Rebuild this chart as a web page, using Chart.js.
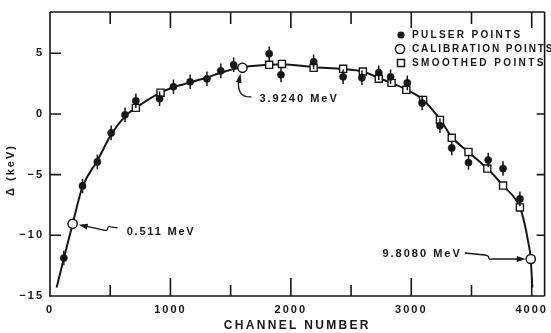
<!DOCTYPE html>
<html><head><meta charset="utf-8">
<script src="https://cdn.jsdelivr.net/npm/chart.js@4/dist/chart.umd.min.js"></script>
<style>html,body{margin:0;padding:0;background:#fff;}canvas{display:block}</style>
</head><body>
<canvas id="c" width="551" height="333" style="width:551px;height:333px"></canvas>
<script>
// ---- data ----
const pulserX   = [115, 270, 393, 508, 623, 713, 910, 1025, 1164, 1303, 1418, 1525, 1820, 1918, 2189, 2434, 2590, 2730, 2828, 2967, 3090, 3238, 3336, 3475, 3639, 3762, 3902];
const pulserY   = [-11.87, -5.93, -3.95, -1.56, -0.07, 1.08, 1.25, 2.24, 2.65, 2.9, 3.55, 4.05, 4.96, 3.22, 4.3, 3.06, 2.98, 3.4, 3.06, 2.56, 0.9, -0.98, -2.8, -4.0, -3.8, -4.5, -7.0];
const pulserErr = [0.6, 0.6, 0.6, 0.6, 0.6, 0.6, 0.6, 0.6, 0.6, 0.6, 0.6, 0.6, 0.6, 0.6, 0.6, 0.6, 0.6, 0.6, 0.6, 0.6, 0.6, 0.6, 0.6, 0.6, 0.6, 0.6, 0.6];
const calibX = [188, 1598, 3992];
const calibY = [-9.05, 3.8, -11.95];
const calibLabels = ['0.511 MeV', '3.9240 MeV', '9.8080 MeV'];
const smoothX = [713, 918, 1820, 1926, 2189, 2434, 2598, 2730, 2836, 2959, 3098, 3238, 3336, 3475, 3631, 3762, 3902];
const smoothY = [0.5, 1.75, 4.05, 4.12, 3.8, 3.72, 3.5, 2.9, 2.56, 1.99, 1.16, -0.49, -1.97, -3.13, -4.5, -5.9, -7.7];
const curveX = [55, 115, 188, 270, 393, 508, 623, 713, 918, 1025, 1164, 1303, 1418, 1525, 1598, 1820, 1926, 2189, 2434, 2598, 2730, 2836, 2959, 3098, 3238, 3336, 3475, 3631, 3762, 3902, 3940, 3970, 3992, 4005];
const curveY = [-14.3, -11.9, -9.05, -6.0, -3.85, -1.7, -0.2, 0.5, 1.75, 2.2, 2.6, 3.0, 3.4, 3.7, 3.85, 4.05, 4.1, 3.85, 3.7, 3.5, 2.95, 2.56, 2.0, 1.16, -0.45, -1.9, -3.15, -4.5, -5.9, -7.7, -9.0, -10.5, -11.95, -14.3];
const xTickMarks  = [0, 500, 1000, 1500, 2000, 2500, 3000, 3500, 4000];
const xTickValues = [0, 1000, 2000, 3000, 4000];
const xTickLabels = ['0', '1000', '2000', '3000', '4000'];
const yTickValues = [-15, -10, -5, 0, 5];
const yTickLabels = ['\u221215', '\u221210', '\u22125', '0', '5'];
const seriesLabels = ['PULSER POINTS', 'CALIBRATION POINTS', 'SMOOTHED POINTS'];
const xTitle = 'CHANNEL NUMBER';
const yTitle = '\u0394 (keV)';

// ---- styles ----
const INK = '#161616';
const FONT = "'Liberation Sans', Arial, sans-serif";
const zip = (xs, ys) => xs.map((v, i) => ({x: v, y: ys[i]}));

function txt(ctx, s, x, y, size, spacing, align) {
  ctx.save();
  ctx.font = 'bold ' + size + 'px ' + FONT;
  ctx.letterSpacing = spacing + 'px';
  ctx.fillStyle = INK;
  ctx.textAlign = align || 'left';
  ctx.textBaseline = 'middle';
  ctx.fillText(s, x, y);
  ctx.restore();
}
function arrowHead(ctx, tx, ty, ax, ay, len, half) {
  const ang = Math.atan2(ty - ay, tx - ax);
  ctx.beginPath();
  ctx.moveTo(tx, ty);
  ctx.lineTo(tx - len * Math.cos(ang) + half * Math.sin(ang), ty - len * Math.sin(ang) - half * Math.cos(ang));
  ctx.lineTo(tx - len * Math.cos(ang) - half * Math.sin(ang), ty - len * Math.sin(ang) + half * Math.cos(ang));
  ctx.closePath();
  ctx.fill();
}

const decor = {
  id: 'decor',
  beforeDraw(chart) {
    const c = chart.ctx;
    c.save(); c.fillStyle = '#fff'; c.fillRect(0, 0, chart.width, chart.height); c.restore();
    c.letterSpacing = '2px';
  },
  beforeDatasetsDraw(chart) {
    const {ctx, chartArea: a, scales: {x, y}} = chart;
    ctx.save();
    ctx.strokeStyle = INK; ctx.lineWidth = 1.6;
    ctx.beginPath();
    ctx.moveTo(a.left, a.top); ctx.lineTo(a.right, a.top);
    ctx.moveTo(a.left, a.top); ctx.lineTo(a.left, a.bottom);
    ctx.moveTo(a.left - 1, a.bottom); ctx.lineTo(a.right, a.bottom);
    ctx.moveTo(a.right, a.top); ctx.lineTo(a.right, a.bottom);
    x.ticks.forEach(t => {
      if (t.value <= x.min) return;
      const px = x.getPixelForValue(t.value);
      const major = xTickValues.includes(t.value);
      ctx.moveTo(px, a.bottom); ctx.lineTo(px, a.bottom - (major ? 18 : 11));
      ctx.moveTo(px, a.top); ctx.lineTo(px, a.top + (major ? 16 : 12));
    });
    y.ticks.forEach(t => {
      if (t.value <= y.min) return;
      const py = y.getPixelForValue(t.value);
      ctx.moveTo(a.left, py); ctx.lineTo(a.left + 11, py);
      if (t.value < 5) { ctx.moveTo(a.right, py); ctx.lineTo(a.right - 8, py); }
    });
    ctx.stroke();
    ctx.restore();
  },
  afterDatasetsDraw(chart) {
    const {ctx, chartArea: a, scales: {x, y}} = chart;
    ctx.save();
    ctx.strokeStyle = INK; ctx.fillStyle = INK; ctx.lineWidth = 1.5;
    // error bars
    ctx.beginPath();
    pulserX.forEach((v, i) => {
      const px = x.getPixelForValue(v);
      ctx.moveTo(px, y.getPixelForValue(pulserY[i] - pulserErr[i]));
      ctx.lineTo(px, y.getPixelForValue(pulserY[i] + pulserErr[i]));
    });
    ctx.stroke();
    // annotations for calibration points
    const cp = calibX.map((v, i) => [x.getPixelForValue(v), y.getPixelForValue(calibY[i])]);
    ctx.lineWidth = 1.3;
    // 0.511
    let [cx, cy] = cp[0];
    ctx.beginPath();
    ctx.moveTo(cx + 12, cy + 2); ctx.lineTo(cx + 30, cy + 6);
    ctx.bezierCurveTo(cx + 38, cy + 9, cx + 33, cy + 1, cx + 38, cy + 3);
    ctx.lineTo(cx + 45, cy + 4);
    ctx.stroke();
    arrowHead(ctx, cx + 6, cy + 1, cx + 30, cy + 6, 9, 3);
    txt(ctx, calibLabels[0], cx + 54, cy + 8, 11, 1.8);
    // 3.9240
    [cx, cy] = cp[1];
    ctx.beginPath();
    ctx.moveTo(cx + 9, cy + 29);
    ctx.quadraticCurveTo(cx - 5, cy + 30, cx - 4, cy + 14);
    ctx.stroke();
    arrowHead(ctx, cx - 2, cy + 6, cx - 4, cy + 16, 9, 3);
    txt(ctx, calibLabels[1], cx + 17, cy + 31, 11, 2);
    // 9.8080
    [cx, cy] = cp[2];
    ctx.beginPath();
    ctx.moveTo(cx - 66, cy - 6); ctx.lineTo(cx - 46, cy - 4);
    ctx.bezierCurveTo(cx - 38, cy - 3, cx - 46, cy + 1, cx - 38, cy + 0);
    ctx.lineTo(cx - 12, cy);
    ctx.stroke();
    arrowHead(ctx, cx - 5, cy, cx - 30, cy, 9, 3);
    txt(ctx, calibLabels[2], cx - 69, cy - 5, 11, 2, 'right');
    // legend
    const lx = 401, rows = [35, 49, 63];
    ctx.beginPath(); ctx.arc(lx, rows[0], 3.6, 0, Math.PI * 2); ctx.fill();
    ctx.beginPath(); ctx.arc(lx - 1, rows[1], 4.6, 0, Math.PI * 2);
    ctx.fillStyle = '#fff'; ctx.fill(); ctx.lineWidth = 1.5; ctx.stroke();
    ctx.fillStyle = '#fff'; ctx.fillRect(lx - 3.5, rows[2] - 3.5, 7, 7); ctx.strokeRect(lx - 3.5, rows[2] - 3.5, 7, 7);
    ctx.fillStyle = INK;
    txt(ctx, seriesLabels[0], 412, rows[0], 10, 2.3);
    txt(ctx, seriesLabels[1], 412, rows[1], 10, 1.9);
    txt(ctx, seriesLabels[2], 412, rows[2], 10, 2.4);
    // axis titles
    txt(ctx, xTitle, (a.left + a.right) / 2, 326, 12, 2.3, 'center');
    ctx.save(); ctx.translate(11, 170); ctx.rotate(-Math.PI / 2);
    txt(ctx, yTitle, 0, 0, 11, 2, 'center');
    ctx.restore();
    ctx.restore();
  }
};

new Chart(document.getElementById('c'), {
  type: 'scatter',
  data: {
    datasets: [
      {label: seriesLabels[1], data: zip(calibX, calibY), pointRadius: 4.6, pointBackgroundColor: '#fff', pointBorderColor: INK, pointBorderWidth: 1.5, order: 0},
      {label: seriesLabels[0], data: zip(pulserX, pulserY), pointRadius: 3.6, pointBackgroundColor: INK, pointBorderColor: INK, pointBorderWidth: 0.5, order: 1},
      {label: seriesLabels[2], data: zip(smoothX, smoothY), pointStyle: 'rect', pointRadius: 5, pointBackgroundColor: '#fff', pointBorderColor: INK, pointBorderWidth: 1.4, order: 2},
      {type: 'line', label: 'fit', data: zip(curveX, curveY), showLine: true, borderColor: INK, borderWidth: 2, pointRadius: 0, cubicInterpolationMode: 'monotone', fill: false, order: 3}
    ]
  },
  options: {
    responsive: false, animation: false, devicePixelRatio: 1,
    layout: {padding: {top: 12, right: 0, left: 0, bottom: 0}},
    plugins: {legend: {display: false}, tooltip: {enabled: false}},
    events: [],
    scales: {
      x: {
        type: 'linear', min: 0, max: 4107,
        afterBuildTicks(s) { s.ticks = xTickMarks.map(v => ({value: v})); },
        afterFit(s) { s.height = 37; s.paddingLeft = 0; s.paddingRight = 0; },
        grid: {display: false, drawTicks: false}, border: {display: false},
        ticks: {autoSkip: false, maxRotation: 0, minRotation: 0, padding: 7, color: INK,
          font: {family: FONT, size: 11, weight: 'bold'},
          callback: v => { const i = xTickValues.indexOf(v); return i >= 0 ? xTickLabels[i] : ''; }}
      },
      y: {
        type: 'linear', min: -15, max: 8.4,
        afterBuildTicks(s) { s.ticks = yTickValues.map(v => ({value: v})); },
        afterFit(s) { s.width = 50; s.paddingTop = 0; s.paddingBottom = 0; },
        grid: {display: false, drawTicks: false}, border: {display: false},
        ticks: {autoSkip: false, padding: 6, color: INK,
          font: {family: FONT, size: 11, weight: 'bold'},
          callback: v => { const i = yTickValues.indexOf(v); return i >= 0 ? yTickLabels[i] : ''; }}
      }
    }
  },
  plugins: [decor]
});
</script>
</body></html>
